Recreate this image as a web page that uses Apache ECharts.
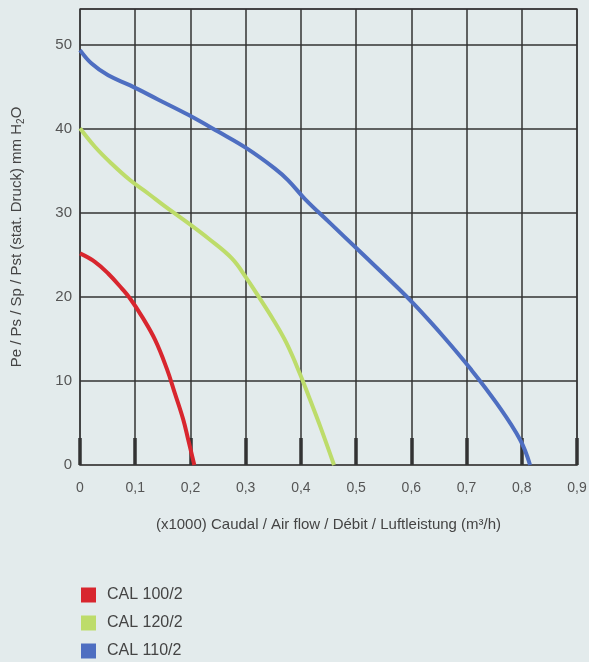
<!DOCTYPE html>
<html>
<head>
<meta charset="utf-8">
<script src="https://cdn.jsdelivr.net/npm/echarts@6/dist/echarts.min.js"></script>
<style>
  html, body { margin: 0; padding: 0; background: #e3ebec; }
  #chart { width: 589px; height: 662px; }
</style>
</head>
<body>
<div id="chart"></div>
<script>
// flow (x1000 m3/h) / static pressure (mm H2O)
var seriesNames = ["CAL 100/2", "CAL 120/2", "CAL 110/2"];
var seriesColors = ["#d8262e", "#bddc6a", "#4e6ec1"];

var cal100 = [
    [0, 25.2], [0.027, 24.2], [0.051, 22.8], [0.076, 21.0], [0.091, 19.8],
    [0.112, 17.7], [0.136, 14.9], [0.157, 11.5], [0.172, 8.5], [0.187, 5.4],
    [0.196, 3.0], [0.207, 0]
];
var cal120 = [
    [0, 40.1], [0.027, 37.9], [0.057, 35.9], [0.091, 33.9], [0.124, 32.3],
    [0.154, 30.8], [0.196, 28.8], [0.232, 27.0], [0.275, 24.6], [0.302, 22.2],
    [0.320, 20.4], [0.350, 17.3], [0.374, 14.5], [0.398, 10.9], [0.417, 7.7],
    [0.435, 4.6], [0.460, 0]
];
var cal110 = [
    [0, 49.4], [0.021, 47.8], [0.051, 46.4], [0.091, 45.2], [0.142, 43.5],
    [0.196, 41.7], [0.250, 39.7], [0.302, 37.7], [0.353, 35.3], [0.377, 33.9],
    [0.407, 31.7], [0.453, 28.8], [0.504, 25.6], [0.574, 21.2], [0.607, 19.0],
    [0.658, 15.3], [0.709, 11.3], [0.755, 7.3], [0.797, 3.0], [0.815, 0]
];
var seriesData = [cal100, cal120, cal110];

var font = "Liberation Sans";
var chart = echarts.init(document.getElementById("chart"));

var series = seriesNames.map(function (name, i) {
    return {
        name: name,
        type: "line",
        smooth: 0.4,
        showSymbol: false,
        data: seriesData[i],
        lineStyle: { color: seriesColors[i], width: 4 },
        itemStyle: { color: seriesColors[i] }
    };
});

chart.setOption({
    backgroundColor: "#e3ebec",
    animation: false,
    grid: {
        left: 80,
        right: 12,
        top: 9,
        bottom: 197,
        outerBoundsMode: "none",
        show: true,
        borderColor: "#555",
        borderWidth: 1.5
    },
    legend: {
        orient: "vertical",
        left: 81,
        top: 587,
        padding: 0,
        icon: "rect",
        itemWidth: 15,
        itemHeight: 15,
        itemGap: 12,
        data: seriesNames,
        textStyle: { fontFamily: font, fontSize: 16, color: "#444", padding: [0, 0, 0, 6] }
    },
    xAxis: {
        type: "value",
        min: 0,
        max: 0.9,
        interval: 0.1,
        name: "(x1000) Caudal / Air flow / Débit / Luftleistung (m³/h)",
        nameLocation: "middle",
        nameGap: 52,
        nameTextStyle: { fontFamily: font, fontSize: 15, color: "#444" },
        axisLine: { lineStyle: { color: "#555", width: 1.5 } },
        axisTick: { inside: true, length: 27, lineStyle: { color: "#333", width: 3.5 } },
        axisLabel: {
            margin: 16,
            fontFamily: font,
            fontSize: 14,
            color: "#555",
            formatter: function (v) { return String(Math.round(v * 10) / 10).replace(".", ","); }
        },
        splitLine: { show: true, lineStyle: { color: "#333", width: 1.5 } }
    },
    yAxis: {
        type: "value",
        min: 0,
        max: 54.3,
        interval: 10,
        name: "Pe / Ps / Sp / Pst (stat. Druck) mm H{sub|2}O",
        nameLocation: "middle",
        nameGap: 54,
        nameTextStyle: {
            fontFamily: font,
            fontSize: 15,
            color: "#444",
            rich: { sub: { fontFamily: font, fontSize: 10, color: "#444", verticalAlign: "bottom", padding: [8, 0, 0, 0] } }
        },
        axisLine: { show: false },
        axisTick: { show: false },
        axisLabel: {
            margin: 8,
            fontFamily: font,
            fontSize: 15,
            color: "#555",
            showMaxLabel: false
        },
        splitLine: { show: true, lineStyle: { color: "#333", width: 1.5 } }
    },
    series: series
});
</script>
</body>
</html>
